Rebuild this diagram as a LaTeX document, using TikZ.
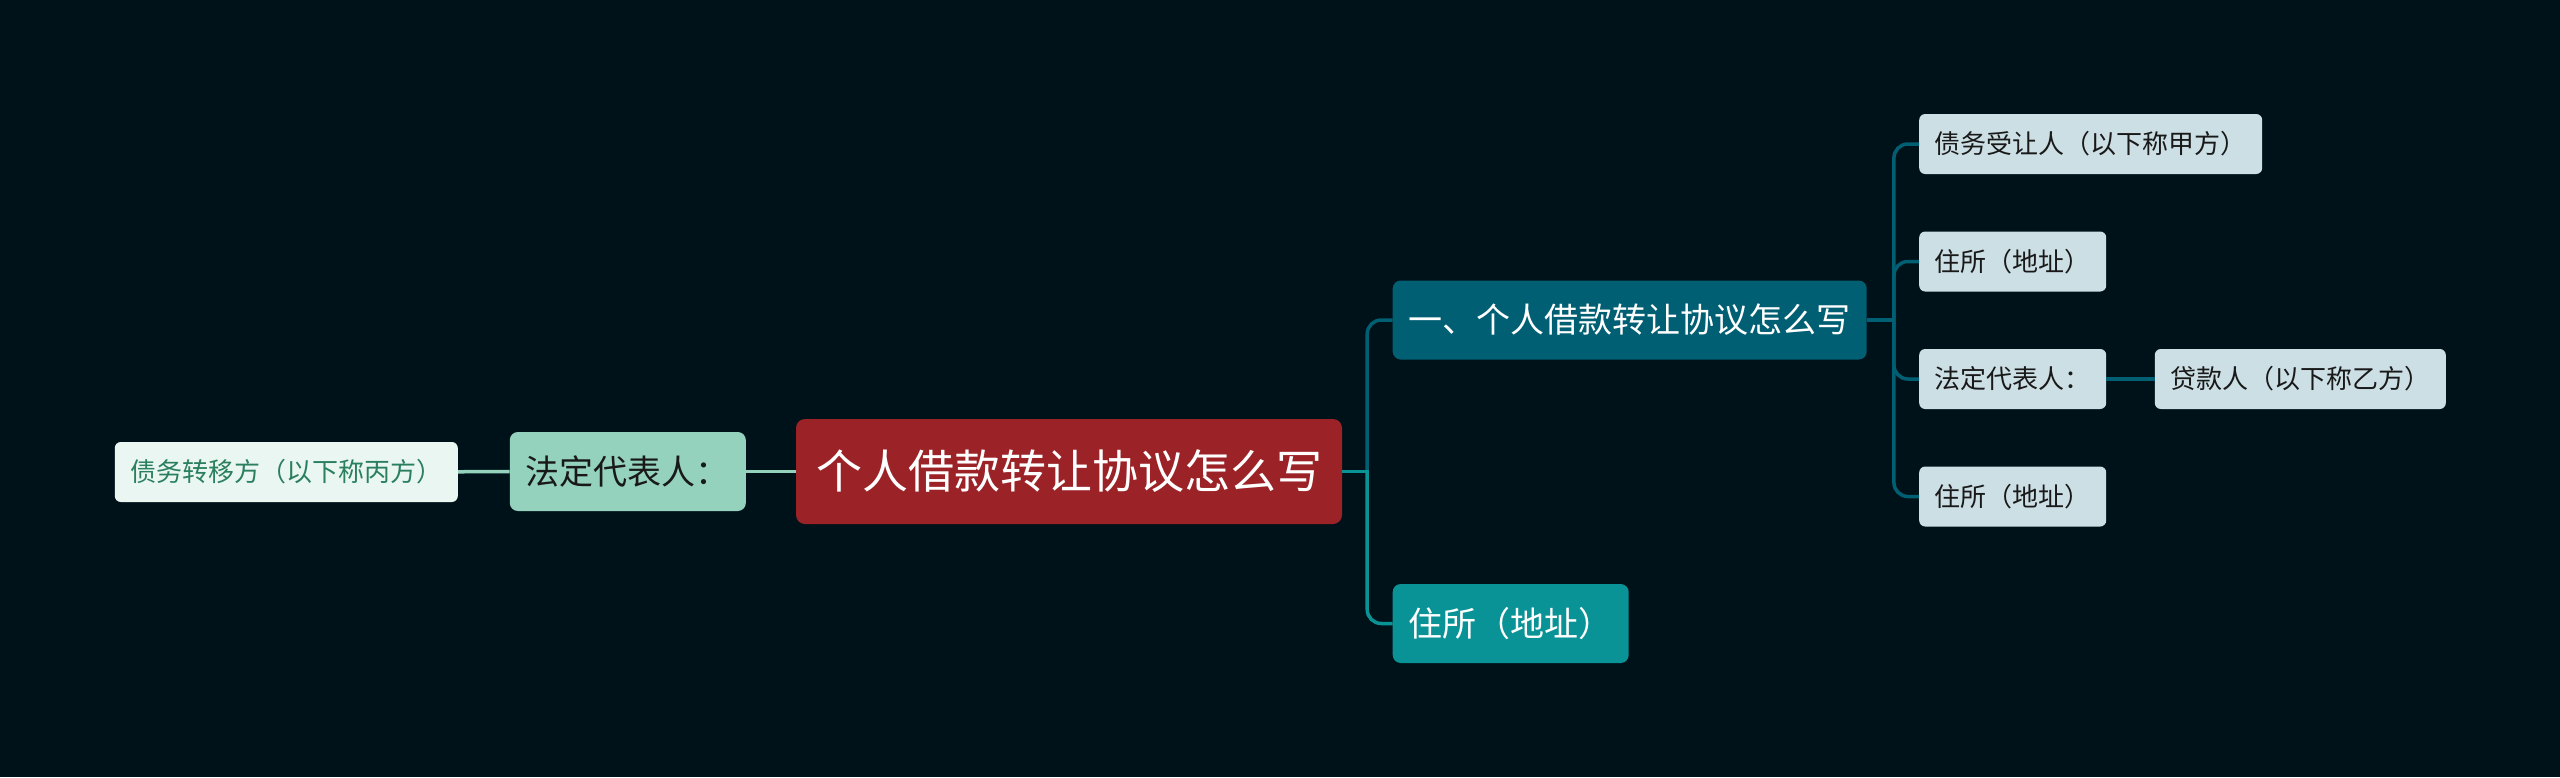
\documentclass[tikz,border=0pt]{standalone}
\usepackage{fontspec}
\setmainfont{Noto Sans CJK SC}
\usetikzlibrary{positioning}
\definecolor{bgdark}{HTML}{001219}
\definecolor{rootred}{HTML}{9B2226}
\definecolor{deepteal}{HTML}{005F73}
\definecolor{midteal}{HTML}{0A9396}
\definecolor{mint}{HTML}{94D2BD}
\definecolor{mintpale}{HTML}{EAF6F2}
\definecolor{mintink}{HTML}{2A7F5F}
\definecolor{tealpale}{HTML}{CCDFE4}
\tikzset{
    map box/.style = {rounded corners=6pt, inner ysep=0pt},
    root box/.style = {map box, fill=rootred, text=white, rounded corners=9pt,
        font=\fontsize{46}{50}\selectfont, inner xsep=20pt, minimum height=105pt},
    branch box/.style = {map box, text=white, rounded corners=8pt,
        font=\fontsize{34}{40}\selectfont, inner xsep=16pt, minimum height=79pt},
    leaf box/.style = {map box, fill=tealpale, text=black!90,
        font=\fontsize{26}{30}\selectfont, inner xsep=15.5pt, minimum height=60pt},
}
\tikzset{
    map edge/.style = {draw, line width=3.5pt, rounded corners=14pt},
}
\begin{document}
\begin{tikzpicture}[x=1pt, y=-1pt]
    \fill[bgdark] (0, 0) rectangle (2560, 777);

    \node[root box] (root) at (1069, 471.5) {个人借款转让协议怎么写};
    \node[branch box, fill=deepteal, anchor=west] (plan) at (1392.5, 320) {一、个人借款转让协议怎么写};
    \node[branch box, fill=midteal, anchor=west] (home) at (1392.5, 623.5) {住所（地址）};
    \node[branch box, fill=mint, text=black!90, anchor=east] (legalL) at (746, 471.5) {法定代表人：};
    \node[leaf box, fill=mintpale, text=mintink, anchor=east] (debtor) at (458, 472) {债务转移方（以下称丙方）};

    \node[leaf box, anchor=west] (creditor) at (1919, 144) {债务受让人（以下称甲方）};
    \node[leaf box, anchor=west] (homeA) at (1919, 261.5) {住所（地址）};
    \node[leaf box, anchor=west] (legalR) at (1919, 379) {法定代表人：};
    \node[leaf box, anchor=west] (homeB) at (1919, 496.5) {住所（地址）};
    \node[leaf box, anchor=west] (lender) at (2154.6, 379) {贷款人（以下称乙方）};

    \coordinate (hubR) at ([xshift=25pt]root.east);
    \coordinate (hubA) at ([xshift=27pt]plan.east);

    % right side
    \draw[map edge, deepteal] (plan.west) -| (hubR);
    \draw[map edge, midteal] (hubR) |- (home.west);
    \draw[map edge, midteal] (root.east) -- ([xshift=1.75pt]hubR);
    \draw[map edge, deepteal] (plan.east) -- (hubA);
    \draw[map edge, deepteal] (creditor.west) -| (hubA) |- (homeB.west);
    \draw[map edge, deepteal] (homeA.west) -| (hubA);
    \draw[map edge, deepteal] (legalR.west) -| (hubA);
    \draw[map edge, deepteal] (legalR) -- (lender);

    % left side
    \draw[map edge, mint] (root) -- (legalL);
    \draw[map edge, mint] (legalL) -- (debtor);
\end{tikzpicture}
\end{document}
